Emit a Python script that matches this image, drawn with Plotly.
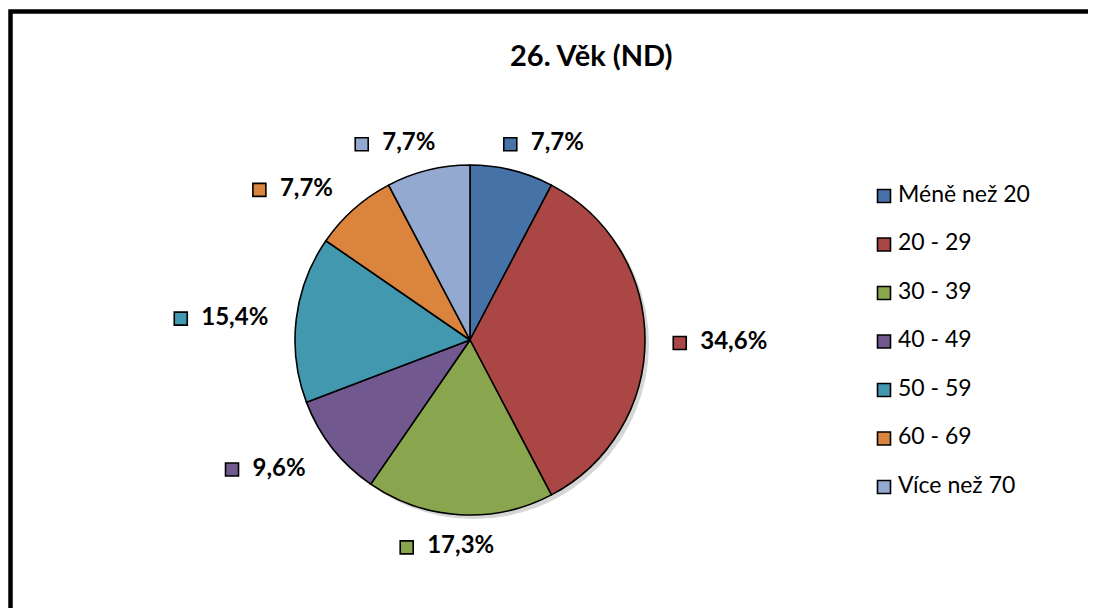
import math
import plotly.graph_objects as go

# ---- data ----
categories = ["Méně než 20", "20 - 29", "30 - 39", "40 - 49", "50 - 59", "60 - 69", "Více než 70"]
percent_values = [7.7, 34.6, 17.3, 9.6, 15.4, 7.7, 7.7]
slice_colors = ["#4572A7", "#AA4643", "#89A54E", "#71588F", "#4198AF", "#DB843D", "#93A9CF"]
title_text = "26. Věk (ND)"

# ---- layout constants (page pixels; the page body has an 8px margin) ----
PAGE_W, PAGE_H = 1096, 608
OFF = 8
W, H = PAGE_W - OFF, PAGE_H - OFF
CX, CY, R = 470, 340, 175
FONT = "Lato"

def fmt(v):
    return f"{v:.1f}".replace(".", ",") + "%"

def px_x(x):
    return (x - OFF) / W

def px_y(y):
    return 1 - (y - OFF) / H

fig = go.Figure()

dom_x = [px_x(CX - R), px_x(CX + R)]
dom_y = [px_y(CY + R), px_y(CY - R)]

# soft shadow under the pie
sh = 4
fig.add_trace(go.Pie(
    values=[sum(percent_values)], labels=["shadow"], sort=False,
    marker=dict(colors=["rgba(0,0,0,0.16)"], line=dict(width=0)),
    domain=dict(x=[dom_x[0] + sh / W, dom_x[1] + sh / W], y=[dom_y[0] - sh / H, dom_y[1] - sh / H]),
    textinfo="none", hoverinfo="skip", showlegend=False,
))

fig.add_trace(go.Pie(
    values=percent_values, labels=categories, sort=False, direction="clockwise", rotation=0,
    marker=dict(colors=slice_colors, line=dict(color="black", width=1.6)),
    domain=dict(x=dom_x, y=dom_y),
    textinfo="none", showlegend=False,
))

# ---- data labels placed on a super-ellipse around the pie by mid-angle ----
total = sum(percent_values)
a_rad, b_rad, p_exp = 1.43 * R, 1.17 * R, 0.85
sq_x, sq_y, tx_x, tx_y, tx_t, sq_c = [], [], [], [], [], []
cum = 0.0
for v, c in zip(percent_values, slice_colors):
    mid = (cum + v / 2) / total * 2 * math.pi
    cum += v
    s, co = math.sin(mid), math.cos(mid)
    lx = CX + a_rad * math.copysign(abs(s) ** p_exp, s)
    ly = CY - b_rad * co + 3
    t = fmt(v)
    box_w = 13 + 16 + 13.0 * len(t)
    left = lx - box_w / 2
    sq_x.append(left + 6.5)
    sq_y.append(ly)
    tx_x.append(left + 27)
    tx_y.append(ly)
    tx_t.append(t)
    sq_c.append(c)

fig.add_trace(go.Scatter(
    x=sq_x, y=sq_y, mode="markers",
    marker=dict(symbol="square", size=13, color=sq_c, line=dict(color="black", width=1.6)),
    hoverinfo="skip", showlegend=False,
))
fig.add_trace(go.Scatter(
    x=tx_x, y=tx_y, mode="text", text=tx_t, textposition="middle right",
    textfont=dict(family=FONT, size=24, color="black", weight="bold"),
    hoverinfo="skip", showlegend=False,
))

# ---- legend (drawn as markers + text) ----
LEG_X, LEG_Y0, LEG_DY = 884, 196, 48.5
leg_y = [LEG_Y0 + i * LEG_DY for i in range(len(categories))]
fig.add_trace(go.Scatter(
    x=[LEG_X] * len(categories), y=leg_y, mode="markers",
    marker=dict(symbol="square", size=13, color=slice_colors, line=dict(color="black", width=1.6)),
    hoverinfo="skip", showlegend=False,
))
fig.add_trace(go.Scatter(
    x=[LEG_X + 14] * len(categories), y=leg_y, mode="text", text=categories,
    textposition="middle right",
    textfont=dict(family=FONT, size=23, color="black"),
    hoverinfo="skip", showlegend=False,
))

# ---- frame ----
fig.add_shape(type="rect", x0=10.5, y0=11.5, x1=PAGE_W + 50, y1=PAGE_H + 50, xref="x", yref="y",
              line=dict(color="black", width=4.5), fillcolor="rgba(0,0,0,0)", layer="above")

fig.add_annotation(text=f"<b>{title_text}</b>", x=591, y=54, xref="x", yref="y",
                   showarrow=False, xanchor="center", yanchor="middle",
                   font=dict(family=FONT, size=29, color="black"))

fig.update_layout(
    width=W, height=H, margin=dict(l=0, r=0, t=0, b=0),
    paper_bgcolor="white", plot_bgcolor="rgba(0,0,0,0)",
    xaxis=dict(range=[OFF, PAGE_W], visible=False, fixedrange=True, domain=[0, 1]),
    yaxis=dict(range=[PAGE_H, OFF], visible=False, fixedrange=True, domain=[0, 1]),
    showlegend=False,
)

fig.write_html("out.html")
